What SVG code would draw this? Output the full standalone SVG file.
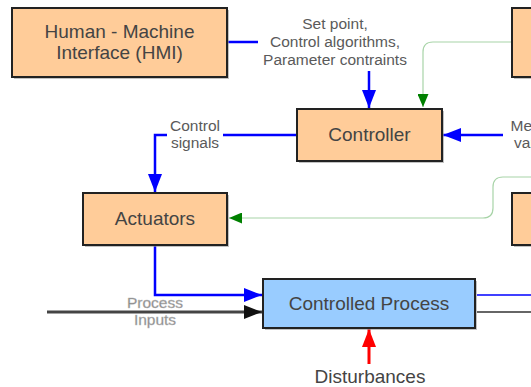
<svg xmlns="http://www.w3.org/2000/svg" width="531" height="387" viewBox="0 0 531 387">
  <style>
    .box { stroke: #222; stroke-width: 2; }
    .peach { fill: #ffcc99; }
    .sky { fill: #99ccff; }
    .shadow { fill: #999; opacity: 0.6; }
    .lbl { font-family: "Liberation Sans", Arial, sans-serif; font-size: 19px; fill: #444; text-anchor: middle; }
    .note { font-family: "Liberation Sans", Arial, sans-serif; font-size: 15.5px; fill: #5a5a5a; text-anchor: middle; }
    .faint { fill: #858585; stroke: #bbb; stroke-width: 0.4; }
    .blue { fill: none; stroke: #0000ff; stroke-width: 2.5; }
    .thinblue { fill: none; stroke: #0000ff; stroke-width: 1.5; }
    .green { fill: none; stroke: #a8d4a8; stroke-width: 1.2; }
    .black { fill: none; stroke: #444; stroke-width: 3; }
    .grey { fill: none; stroke: #666; stroke-width: 2; }
    .red { fill: none; stroke: #ff0000; stroke-width: 3; }
  </style>
  <defs>
    <marker id="headBlue" markerUnits="userSpaceOnUse" markerWidth="19" markerHeight="15" refX="18" refY="7" orient="auto">
      <path d="M0,0 L18,7 L0,14 z" fill="#0000ff"/>
    </marker>
    <marker id="headGreen" markerUnits="userSpaceOnUse" markerWidth="14" markerHeight="11" refX="13" refY="5.5" orient="auto">
      <path d="M0,0 L13,5.5 L0,11 z" fill="#008000"/>
    </marker>
    <marker id="headBlack" markerUnits="userSpaceOnUse" markerWidth="19" markerHeight="15" refX="18" refY="7" orient="auto">
      <path d="M0,0 L18,7 L0,14 z" fill="#111"/>
    </marker>
    <marker id="headRed" markerUnits="userSpaceOnUse" markerWidth="19" markerHeight="15" refX="18" refY="7" orient="auto">
      <path d="M0,0 L18,7 L0,14 z" fill="#ff0000"/>
    </marker>
  </defs>

  <!-- connectors -->
  <g id="connectors">
    <!-- HMI to controller settings -->
    <line class="blue" x1="227" y1="42" x2="258" y2="42"/>
    <line class="blue" x1="369" y1="71" x2="369" y2="108" marker-end="url(#headBlue)"/>
    <!-- feedback from upper right block -->
    <path class="green" d="M512,42 H433 Q423,42 423,52 V107" marker-end="url(#headGreen)"/>
    <!-- measured variables -->
    <line class="blue" x1="503" y1="135" x2="443" y2="135" marker-end="url(#headBlue)"/>
    <!-- control signals -->
    <line class="blue" x1="297" y1="135" x2="223" y2="135"/>
    <path class="blue" d="M167,135 H155 V192" marker-end="url(#headBlue)"/>
    <!-- feedback from middle right block -->
    <path class="green" d="M531,177 H503 Q493,177 493,187 V208 Q493,218 483,218 H229" marker-end="url(#headGreen)"/>
    <!-- actuators to process -->
    <path class="blue" d="M155,245 V295 H262" marker-end="url(#headBlue)"/>
    <!-- process inputs -->
    <line class="black" x1="47" y1="312" x2="262" y2="312" marker-end="url(#headBlack)"/>
    <!-- process outputs -->
    <line class="thinblue" x1="477" y1="295" x2="531" y2="295"/>
    <line class="grey" x1="477" y1="312" x2="531" y2="312"/>
    <!-- disturbances -->
    <line class="red" x1="369" y1="364" x2="369" y2="329" marker-end="url(#headRed)"/>
  </g>

  <!-- Human - Machine Interface -->
  <g id="hmi">
    <rect class="shadow" x="14" y="10" width="215" height="69"/>
    <rect class="box peach" x="12" y="8" width="215" height="69"/>
    <text class="lbl" x="119.5" y="38">Human - Machine</text>
    <text class="lbl" x="119.5" y="59">Interface (HMI)</text>
  </g>

  <!-- upper right block, cut by the frame -->
  <g id="upper-right">
    <rect class="shadow" x="514" y="10" width="40" height="69"/>
    <rect class="box peach" x="512" y="8" width="40" height="69"/>
  </g>

  <!-- Controller -->
  <g id="controller">
    <rect class="shadow" x="299" y="111" width="145" height="52"/>
    <rect class="box peach" x="297" y="109" width="145" height="52"/>
    <text class="lbl" x="369.5" y="141">Controller</text>
  </g>

  <!-- Actuators -->
  <g id="actuators">
    <rect class="shadow" x="85" y="195" width="144" height="52"/>
    <rect class="box peach" x="83" y="193" width="144" height="52"/>
    <text class="lbl" x="155" y="225">Actuators</text>
  </g>

  <!-- middle right block, cut by the frame -->
  <g id="middle-right">
    <rect class="shadow" x="514" y="195" width="40" height="52"/>
    <rect class="box peach" x="512" y="193" width="40" height="52"/>
  </g>

  <!-- Controlled Process -->
  <g id="process">
    <rect class="shadow" x="265" y="281" width="212" height="49"/>
    <rect class="box sky" x="263" y="279" width="212" height="49"/>
    <text class="lbl" x="369" y="310">Controlled Process</text>
  </g>

  <!-- connector labels -->
  <g id="labels">
    <text class="note" x="335" y="28.5">Set point,</text>
    <text class="note" x="335" y="46.5">Control algorithms,</text>
    <text class="note" x="335" y="64.5">Parameter contraints</text>
    <text class="note" x="195" y="131">Control</text>
    <text class="note" x="195" y="148">signals</text>
    <text class="note" x="545" y="131">Measured</text>
    <text class="note" x="545" y="148">variables</text>
    <text class="note faint" x="155" y="308">Process</text>
    <text class="note faint" x="155" y="325">Inputs</text>
    <text class="lbl" x="370" y="383">Disturbances</text>
  </g>
</svg>
